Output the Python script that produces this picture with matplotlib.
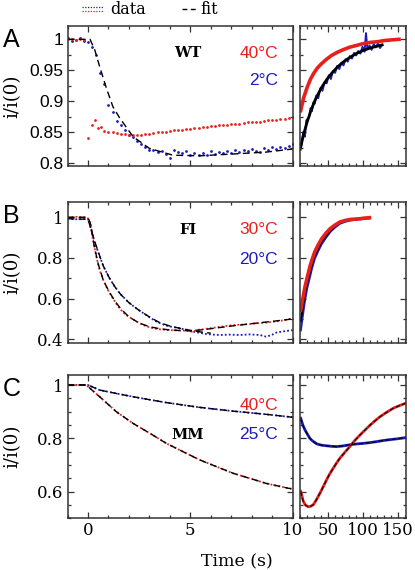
import matplotlib
matplotlib.use("Agg")
import matplotlib.pyplot as plt
from matplotlib.lines import Line2D
from matplotlib.ticker import MultipleLocator

RED = "#e8201c"
BLUE = "#1c1cb8"
SERIF = "DejaVu Serif"
SANS = "Liberation Sans"

# ---- panel A (WT): 40 C / 2 C ----
a_blue_t = [-1.0, -0.8, -0.6, -0.4, -0.2, 0.0, 0.2, 0.4, 0.6, 0.8, 1.0, 1.2, 1.4, 1.6, 1.8,
            2.0, 2.2, 2.4, 2.6, 2.8, 3.0, 3.2, 3.4, 3.6, 3.8, 4.0, 4.2, 4.4, 4.6, 4.8,
            5.0, 5.2, 5.4, 5.6, 5.8, 6.0, 6.2, 6.4, 6.6, 6.8, 7.0, 7.2, 7.4, 7.6, 7.8,
            8.0, 8.2, 8.4, 8.6, 8.8, 9.0, 9.2, 9.4, 9.6, 9.8, 10.0]
a_blue_y = [1.002, 0.997, 0.999, 1.002, 0.998, 0.996, 0.988, 0.975, 0.945, 0.928, 0.894, 0.882, 0.868, 0.861, 0.853,
            0.846, 0.842, 0.836, 0.831, 0.826, 0.822, 0.821, 0.818, 0.820, 0.815, 0.808, 0.822, 0.818, 0.816, 0.819,
            0.814, 0.817, 0.813, 0.816, 0.814, 0.819, 0.815, 0.818, 0.816, 0.820, 0.817, 0.821, 0.818, 0.822, 0.819,
            0.823, 0.820, 0.818, 0.824, 0.822, 0.826, 0.823, 0.827, 0.825, 0.828, 0.831]
a_red_t = [-1.0, -0.8, -0.6, -0.4, -0.2, 0.0, 0.2, 0.35, 0.5, 0.65, 0.8, 1.0, 1.2, 1.4, 1.6, 1.8,
           2.0, 2.2, 2.4, 2.6, 2.8, 3.0, 3.2, 3.4, 3.6, 3.8, 4.0, 4.2, 4.4, 4.6, 4.8,
           5.0, 5.2, 5.4, 5.6, 5.8, 6.0, 6.2, 6.4, 6.6, 6.8, 7.0, 7.2, 7.4, 7.6, 7.8,
           8.0, 8.2, 8.4, 8.6, 8.8, 9.0, 9.2, 9.4, 9.6, 9.8, 10.0]
a_red_y = [1.000, 1.001, 0.999, 1.000, 0.999, 0.841, 0.861, 0.869, 0.857, 0.859, 0.852, 0.851, 0.850, 0.849, 0.848, 0.847,
           0.846, 0.845, 0.845, 0.846, 0.847, 0.848, 0.849, 0.850, 0.850, 0.851, 0.852, 0.853, 0.853, 0.854, 0.855,
           0.856, 0.857, 0.857, 0.858, 0.859, 0.860, 0.860, 0.861, 0.862, 0.862, 0.863, 0.864, 0.864, 0.865, 0.866,
           0.866, 0.867, 0.867, 0.868, 0.869, 0.869, 0.870, 0.871, 0.872, 0.873, 0.874]
a_fit_t = [-1.0, 0.1, 0.33, 0.57, 0.9, 1.22, 1.55, 2.2, 3.0, 4.15, 5.46, 7.1, 8.7, 10.0]
a_fit_y = [1.0, 1.0, 0.983, 0.956, 0.921, 0.891, 0.873, 0.843, 0.824, 0.813, 0.812, 0.815, 0.818, 0.823]

ar_red_t = [11, 15, 20, 25, 30, 35, 40, 48, 55, 63, 71, 80, 90, 100, 110, 120, 130, 140, 151]
ar_red_y = [0.885, 0.905, 0.922, 0.936, 0.946, 0.954, 0.960, 0.968, 0.974, 0.979, 0.983, 0.987, 0.990,
            0.993, 0.995, 0.996, 0.998, 0.999, 1.0]
ar_blue_t = [11, 13, 15, 17, 19, 21, 23, 25, 27, 29, 31, 33, 36, 39, 42, 45, 48, 51, 54, 57, 60, 63,
             66, 69, 72, 75, 78, 81, 84, 87, 90, 93, 96, 99, 102, 104, 106, 109, 112, 115, 118, 121, 124, 127]
ar_blue_y = [0.822, 0.838, 0.851, 0.843, 0.869, 0.872, 0.874, 0.889, 0.884, 0.898, 0.896, 0.909, 0.905,
             0.921, 0.917, 0.931, 0.929, 0.942, 0.936, 0.949, 0.946, 0.957, 0.952, 0.962, 0.958, 0.968,
             0.964, 0.973, 0.969, 0.978, 0.974, 0.981, 0.977, 0.988, 0.980, 1.010, 0.984, 0.990, 0.983,
             0.992, 0.987, 0.993, 0.986, 0.991]
ar_fit_t = [11, 15, 20, 25, 30, 35, 40, 48, 55, 63, 71, 80, 90, 100, 110, 120, 127]
ar_fit_y = [0.826, 0.846, 0.866, 0.883, 0.898, 0.910, 0.921, 0.935, 0.945, 0.955, 0.963, 0.970, 0.977,
            0.982, 0.986, 0.989, 0.991]

# ---- panel B (FI): 30 C / 20 C ----
b_red_t = [-1.0, -0.6, -0.2, 0.0, 0.12, 0.24, 0.41, 0.57, 0.73, 0.9, 1.05, 1.22, 1.38, 1.55, 1.7, 1.87,
           2.05, 2.2, 2.45, 2.69, 2.95, 3.18, 3.5, 3.83, 4.2, 4.64, 4.9, 5.13, 5.29, 5.6, 5.94, 6.5,
           7.08, 7.5, 7.9, 8.3, 8.7, 9.2, 9.6, 10.0]
b_red_y = [1.0, 1.002, 1.0, 0.995, 0.97, 0.89, 0.805, 0.74, 0.695, 0.658, 0.628, 0.601, 0.575, 0.552, 0.534,
           0.519, 0.507, 0.498, 0.483, 0.47, 0.461, 0.454, 0.449, 0.446, 0.444, 0.443, 0.441, 0.436, 0.446,
           0.449, 0.454, 0.462, 0.47, 0.472, 0.475, 0.479, 0.482, 0.488, 0.494, 0.503]
b_blue_t = [-1.0, -0.7, -0.4, -0.2, 0.0, 0.08, 0.16, 0.28, 0.41, 0.57, 0.73, 0.9, 1.06, 1.3, 1.55, 1.87,
            2.1, 2.36, 2.6, 2.85, 3.1, 3.34, 3.6, 3.83, 4.15, 4.48, 4.8, 5.13, 5.45, 5.78, 6.1, 6.43,
            6.9, 7.4, 7.9, 8.4, 8.7, 8.95, 9.2, 9.5, 9.85, 10.0]
b_blue_y = [0.995, 0.99, 0.99, 0.992, 0.99, 0.975, 0.936, 0.893, 0.854, 0.808, 0.765, 0.73, 0.699, 0.66,
            0.626, 0.593, 0.572, 0.552, 0.535, 0.519, 0.502, 0.487, 0.476, 0.467, 0.46, 0.454, 0.447,
            0.438, 0.432, 0.426, 0.423, 0.421, 0.423, 0.421, 0.424, 0.421, 0.413, 0.42, 0.433, 0.438,
            0.443, 0.445]
b_fit_red_t = [-1.0, 0.0, 0.15, 0.3, 0.5, 0.75, 1.0, 1.3, 1.6, 2.0, 2.5, 3.0, 3.5, 4.0, 4.5, 5.0, 5.5,
               6.0, 7.0, 8.0, 9.0, 10.0]
b_fit_red_y = [1.0, 1.0, 0.96, 0.86, 0.77, 0.69, 0.64, 0.59, 0.55, 0.51, 0.48, 0.462, 0.452, 0.446,
               0.443, 0.442, 0.446, 0.452, 0.465, 0.477, 0.488, 0.50]
b_fit_blue_t = [-1.0, 0.0, 0.15, 0.3, 0.5, 0.75, 1.0, 1.3, 1.6, 2.0, 2.5, 3.0, 3.5, 4.0, 4.5, 5.0, 5.5, 6.0]
b_fit_blue_y = [0.993, 0.99, 0.94, 0.89, 0.83, 0.76, 0.71, 0.66, 0.62, 0.58, 0.542, 0.51, 0.482, 0.465,
                0.454, 0.444, 0.436, 0.43]

br_red_t = [11, 14, 17, 20, 24, 27, 31, 36, 41, 47, 53, 60, 67, 74, 81, 88, 96, 102, 109]
br_red_y = [0.543, 0.60, 0.657, 0.70, 0.756, 0.79, 0.83, 0.865, 0.895, 0.922, 0.944, 0.962, 0.977,
            0.984, 0.989, 0.991, 0.993, 0.996, 0.998]
br_blue_t = [11, 14, 17, 20, 24, 27, 31, 36, 41, 47, 53, 60, 67, 74, 81, 88, 96, 102, 109]
br_blue_y = [0.444, 0.52, 0.592, 0.65, 0.706, 0.75, 0.797, 0.835, 0.87, 0.90, 0.928, 0.951, 0.969,
             0.978, 0.984, 0.988, 0.99, 0.993, 0.995]
br_fit_t = [11, 14, 17, 20, 24, 27, 31, 36, 41, 47, 53, 60, 67, 74, 81, 88, 96, 102, 109]
br_fit_y = [0.49, 0.56, 0.625, 0.675, 0.73, 0.77, 0.813, 0.85, 0.882, 0.911, 0.936, 0.957, 0.973,
            0.981, 0.987, 0.99, 0.992, 0.995, 0.997]

# ---- panel C (MM): 40 C / 25 C ----
c_red_t = [-1.0, -0.5, -0.1, 0.0, 0.57, 1.38, 2.2, 3.02, 3.83, 4.64, 5.46, 6.27, 7.08, 7.9, 8.7, 9.77, 10.0]
c_red_y = [1.0, 1.0, 1.0, 0.994, 0.956, 0.9, 0.856, 0.819, 0.781, 0.75, 0.719, 0.694, 0.669, 0.65,
           0.631, 0.613, 0.61]
c_blue_t = [-1.0, -0.5, 0.0, 0.57, 1.4, 2.2, 3.0, 3.83, 4.64, 5.46, 6.27, 7.08, 7.9, 8.7, 9.77, 10.0]
c_blue_y = [1.0, 1.0, 1.0, 0.981, 0.968, 0.956, 0.945, 0.934, 0.925, 0.916, 0.909, 0.902, 0.896,
            0.89, 0.881, 0.879]

cr_red_t = [11, 14.8, 18, 21.9, 25, 29, 33, 38.6, 43, 48, 52, 57.6, 62, 67, 74, 81, 88, 95.7, 103,
            110, 117, 124, 133, 143, 152, 160]
cr_red_y = [0.601, 0.563, 0.549, 0.543, 0.545, 0.551, 0.568, 0.595, 0.618, 0.645, 0.665, 0.689, 0.707,
            0.726, 0.748, 0.769, 0.792, 0.813, 0.832, 0.85, 0.866, 0.881, 0.897, 0.913, 0.923, 0.931]
cr_blue_t = [11, 14, 17, 20, 24, 28, 34, 41, 48, 55, 62, 70, 77, 84, 91, 100, 110, 120, 129, 138, 148, 161]
cr_blue_y = [0.875, 0.85, 0.832, 0.818, 0.80, 0.79, 0.779, 0.774, 0.772, 0.770, 0.769, 0.771, 0.774,
             0.777, 0.779, 0.781, 0.784, 0.788, 0.792, 0.795, 0.798, 0.803]

rows = [
    dict(name="WT", hot="40°C", cold="2°C", ylim=(0.7956, 1.0215), minor=0.025,
         yticks=[0.8, 0.85, 0.9, 0.95, 1.0], ylabels=["0.8", "0.85", "0.9", "0.95", "1"], yfont=SANS,
         ysize=12.5, bottom=0.7088, height=0.2456, letter="A", txt_y=(0.807, 0.614), name_y=0.807),
    dict(name="FI", hot="30°C", cold="20°C", ylim=(0.3833, 1.0767), minor=0.1,
         yticks=[0.4, 0.6, 0.8, 1.0], ylabels=["0.4", "0.6", "0.8", "1"], yfont=SERIF,
         ysize=12, bottom=0.3988, height=0.2474, letter="B", txt_y=(0.80, 0.587), name_y=0.80),
    dict(name="MM", hot="40°C", cold="25°C", ylim=(0.50, 1.0375), minor=0.05,
         yticks=[0.6, 0.8, 1.0], ylabels=["0.6", "0.8", "1"], yfont=SERIF,
         ysize=12, bottom=0.0907, height=0.2514, letter="C", txt_y=(0.79, 0.583), name_y=0.583),
]

fig = plt.figure(figsize=(4.15, 5.7), dpi=100)

dot = (0, (1, 1.2))
dash = (0, (5, 3))


def style(ax):
    for s in ax.spines.values():
        s.set_linewidth(1.1)
        s.set_color("#333333")
    ax.tick_params(which="both", direction="in", top=True, right=True, color="#333333", width=0.9)
    ax.tick_params(which="major", length=4)
    ax.tick_params(which="minor", length=2.5)


axes = []
for i, r in enumerate(rows):
    axl = fig.add_axes([0.1627, r["bottom"], 0.5426, r["height"]])
    axr = fig.add_axes([0.7229, r["bottom"], 0.2554, r["height"]])
    for ax in (axl, axr):
        style(ax)
        ax.set_ylim(*r["ylim"])
        ax.set_yticks(r["yticks"])
        ax.yaxis.set_minor_locator(MultipleLocator(r["minor"]))
    axl.set_yticklabels(r["ylabels"], fontsize=r["ysize"], family=r["yfont"])
    axr.set_yticklabels([])
    axl.set_xlim(-1, 10)
    axl.set_xticks([0, 5, 10])
    axl.xaxis.set_minor_locator(MultipleLocator(1))
    axr.set_xlim(10, 161)
    axr.set_xticks([50, 100, 150])
    axr.xaxis.set_minor_locator(MultipleLocator(10))
    if i < 2:
        axl.set_xticklabels([])
        axr.set_xticklabels([])
    else:
        axl.set_xticklabels(["0", "5", "10"], fontsize=12, family=SERIF)
        axr.set_xticklabels(["50", "100", "150"], fontsize=12, family=SERIF)
    axl.tick_params(axis="both", pad=3)
    axr.tick_params(axis="x", pad=3)

    axl.text(0.535, r["name_y"], r["name"], transform=axl.transAxes,
             ha="center", va="center", fontsize=10.5, family=SERIF, fontweight="bold")
    axl.text(0.935, r["txt_y"][0], r["hot"], transform=axl.transAxes, ha="right", va="center",
             fontsize=12.5, family=SANS, color=RED)
    axl.text(0.935, r["txt_y"][1], r["cold"], transform=axl.transAxes, ha="right", va="center",
             fontsize=12.5, family=SANS, color=BLUE)
    fig.text(0.007, r["bottom"] + r["height"] - 0.025, r["letter"], ha="left", va="center",
             fontsize=18, family=SANS)
    fig.text(0.031, r["bottom"] + r["height"] / 2, "i/i(0)", rotation=90, ha="center", va="center",
             fontsize=13, family=SERIF)
    axes.append((axl, axr))

# A
axl, axr = axes[0]
axl.plot(a_blue_t, a_blue_y, "o", ms=2.0, mew=0, color=BLUE)
axl.plot(a_red_t, a_red_y, "o", ms=2.0, mew=0, color=RED)
axl.plot(a_fit_t, a_fit_y, color="black", lw=1.0, linestyle=dash)
axr.plot(ar_blue_t, ar_blue_y, color=BLUE, lw=1.4)
axr.plot(ar_fit_t, ar_fit_y, color="black", lw=2.0)
axr.plot(ar_red_t, ar_red_y, color=RED, lw=2.6)

# B
axl, axr = axes[1]
axl.plot(b_blue_t, b_blue_y, color=BLUE, lw=1.3, linestyle=dot)
axl.plot(b_red_t, b_red_y, color=RED, lw=1.3, linestyle=dot)
axl.plot(b_fit_blue_t, b_fit_blue_y, color="black", lw=1.0, linestyle=dash)
axl.plot(b_fit_red_t, b_fit_red_y, color="black", lw=1.0, linestyle=dash)
axr.plot(br_blue_t, br_blue_y, color=BLUE, lw=1.6)
axr.plot(br_fit_t, br_fit_y, color="black", lw=1.4)
axr.plot(br_red_t, br_red_y, color=RED, lw=2.6)

# C
axl, axr = axes[2]
axl.plot(c_blue_t, c_blue_y, color=BLUE, lw=1.3, linestyle=dot)
axl.plot(c_red_t, c_red_y, color=RED, lw=1.3, linestyle=dot)
axl.plot(c_blue_t, c_blue_y, color="black", lw=1.0, linestyle=dash)
axl.plot(c_red_t, c_red_y, color="black", lw=1.0, linestyle=dash)
axr.plot(cr_blue_t, cr_blue_y, color=BLUE, lw=2.0)
axr.plot(cr_red_t, cr_red_y, color=RED, lw=2.0)
axr.plot(cr_blue_t, cr_blue_y, color="black", lw=0.8, linestyle=(0, (4, 2)))
axr.plot(cr_red_t, cr_red_y, color="black", lw=0.8, linestyle=(0, (4, 2)))

# legend on top
W, H = 415, 570
fig.add_artist(Line2D([82 / W, 103 / W], [1 - 6.5 / H, 1 - 6.5 / H], color=BLUE, lw=0.9, linestyle=dot))
fig.add_artist(Line2D([82 / W, 103 / W], [1 - 10.5 / H, 1 - 10.5 / H], color=RED, lw=0.9, linestyle=dot))
fig.text(110 / W, 1 - 9 / H, "data", ha="left", va="center", fontsize=11.5, family=SERIF)
fig.add_artist(Line2D([182 / W, 197 / W], [1 - 9 / H, 1 - 9 / H], color="black", lw=1.0,
                      linestyle=(0, (3.5, 2.5))))
fig.text(200 / W, 1 - 9 / H, "fit", ha="left", va="center", fontsize=11.5, family=SERIF)

fig.text(237 / W, 1 - 562 / H, "Time (s)", ha="center", va="center", fontsize=12.5, family=SERIF)

fig.savefig("out.png", dpi=100)
